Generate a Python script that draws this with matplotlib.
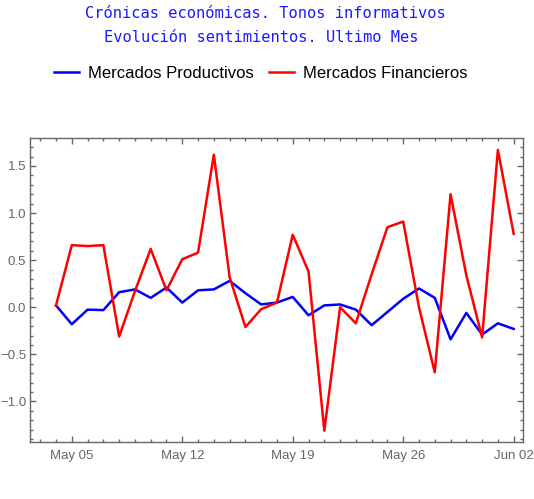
import matplotlib
matplotlib.use("Agg")
import matplotlib.pyplot as plt
import matplotlib.dates as mdates
from matplotlib.ticker import MultipleLocator
import pandas as pd

dates = pd.date_range("2020-05-04", "2020-06-02", freq="D")
productivos = [0.02, -0.18, -0.025, -0.03, 0.16, 0.19, 0.10, 0.21, 0.05, 0.18,
               0.19, 0.28, 0.15, 0.03, 0.05, 0.11, -0.085, 0.02, 0.03, -0.025,
               -0.19, -0.05, 0.09, 0.20, 0.10, -0.34, -0.06, -0.29, -0.17, -0.23]
financieros = [0.02, 0.66, 0.65, 0.66, -0.31, 0.17, 0.62, 0.18, 0.51, 0.58,
               1.62, 0.32, -0.21, -0.02, 0.05, 0.77, 0.38, -1.31, 0.0, -0.17,
               0.35, 0.85, 0.91, 0.0, -0.69, 1.20, 0.34, -0.32, 1.67, 0.78]
major_dates = ["2020-05-05", "2020-05-12", "2020-05-19", "2020-05-26", "2020-06-02"]
title_lines = ["Crónicas económicas. Tonos informativos",
               "Evolución sentimientos. Ultimo Mes"]
series_names = ["Mercados Productivos", "Mercados Financieros"]

W, H = 534, 499
fig = plt.figure(figsize=(W / 100, H / 100), dpi=100)
ax = fig.add_axes([30.3 / W, 1 - 441.7 / H, (523.3 - 30.3) / W, (441.7 - 138.3) / H])

l1, = ax.plot(dates, productivos, color=(0, 0, 1), lw=1.8, label=series_names[0])
l2, = ax.plot(dates, financieros, color=(1, 0, 0), lw=1.8, label=series_names[1])

x0 = mdates.date2num(pd.Timestamp("2020-05-04"))
ax.set_xlim(x0 - 1.63, x0 + 29.61)
ax.set_ylim(-1.427, 1.794)

gray = "#666666"
for s in ax.spines.values():
    s.set_color(gray)
    s.set_linewidth(1.0)

ax.set_xticks([mdates.date2num(pd.Timestamp(d)) for d in major_dates])
ax.xaxis.set_major_formatter(mdates.DateFormatter("%b %d"))
ax.xaxis.set_minor_locator(mdates.DayLocator())
ax.yaxis.set_major_locator(MultipleLocator(0.5))
ax.yaxis.set_minor_locator(MultipleLocator(0.1))
ax.yaxis.set_major_formatter(matplotlib.ticker.FuncFormatter(
    lambda v, p: f"{v:.1f}".replace("-", "\u2212")))

ax.tick_params(which="both", direction="in", top=True, right=True, color=gray,
               labelcolor=gray, labelsize=9.5)
ax.tick_params(which="major", length=4.5, width=1.0)
ax.tick_params(which="minor", length=2.5, width=1.0)
ax.tick_params(axis="x", pad=6)
ax.tick_params(axis="y", pad=3)
for t in ax.get_xticklabels() + ax.get_yticklabels():
    t.set_fontfamily("Liberation Sans")

fig.text(265 / W, 1 - 13 / H, title_lines[0], ha="center", va="center",
         color=(0.1, 0.1, 1), fontsize=11.1, family="DejaVu Sans Mono")
fig.text(261 / W, 1 - 37 / H, title_lines[1], ha="center", va="center",
         color=(0.1, 0.1, 1), fontsize=11.1, family="DejaVu Sans Mono")

fig.legend(handles=[l1, l2], loc="center", bbox_to_anchor=(261 / W, 1 - 73 / H),
           ncol=2, frameon=False, prop={"family": "Liberation Sans", "size": 12},
           handlelength=1.5, handletextpad=0.55, columnspacing=0.9)

fig.savefig("out.png", dpi=100)
